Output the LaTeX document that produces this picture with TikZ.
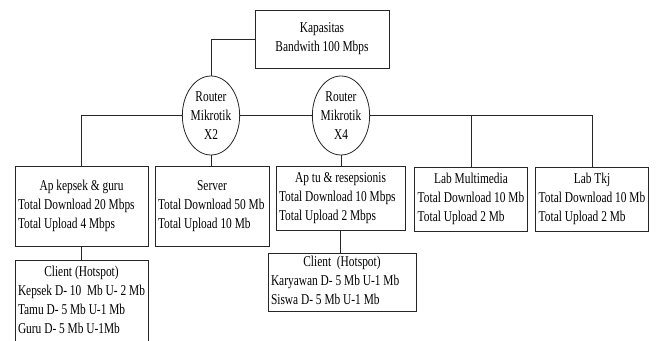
\documentclass[tikz,border=0pt]{standalone}
\usepackage{fontspec}
\setmainfont{Liberation Serif}[FakeStretch=0.76, WordSpace={1,0,0}]
\usetikzlibrary{shapes.geometric}
\newcommand{\boxtext}[3]{\begin{tabular}{@{}l@{}}\multicolumn{1}{@{}c@{}}{\makebox[#1]{#2}}\\#3\end{tabular}}
\begin{document}
\begin{tikzpicture}[x=1pt,y=-1pt,
  every node/.style={font=\fontsize{15}{19}\selectfont},
  box/.style={draw=black!85, line width=0.8pt, rectangle, inner xsep=3pt, inner ysep=0pt},
  router/.style={draw=black!85, line width=0.8pt, ellipse, inner sep=0pt, align=center},
  link/.style={draw=black!85, line width=0.8pt}]
\useasboundingbox (0,0) rectangle (658,340);
\begin{scope}
\clip (0,0) rectangle (658,340);
\node[box, align=center, minimum width=134pt, minimum height=58pt] (cap) at (322,39) {Kapasitas\\Bandwith 100 Mbps};
\node[router, minimum width=57pt, minimum height=79pt] (x2) at (211,115.5) {Router\\Mikrotik\\X2};
\node[router, minimum width=56pt, minimum height=79pt] (x4) at (341,115.5) {Router\\Mikrotik\\X4};
\node[box, minimum width=133pt, minimum height=80pt] (apk) at (81.5,206) {\boxtext{127pt}{Ap kepsek \& guru}{Total Download 20 Mbps\\Total Upload 4 Mbps}};
\node[box, minimum width=114pt, minimum height=80pt] (srv) at (212,206) {\boxtext{108pt}{Server}{Total Download 50 Mb\\Total Upload 10 Mb}};
\node[box, minimum width=129pt, minimum height=64pt] (aptu) at (340.5,198) {\boxtext{123pt}{Ap tu \& resepsionis}{Total Download 10 Mbps\\Total Upload 2 Mbps}};
\node[box, minimum width=110pt, minimum height=64pt] (labm) at (471,199) {\boxtext{104pt}{Lab Multimedia}{Total Download 10 Mb\\Total Upload 2 Mb}};
\node[box, minimum width=112pt, minimum height=64pt] (labt) at (592,199) {\boxtext{106pt}{Lab Tkj}{Total Download 10 Mb\\Total Upload 2 Mb}};
\node[box, minimum width=133pt, minimum height=83pt] (cl1) at (81.5,301.5) {\boxtext{127pt}{Client (Hotspot)}{Kepsek D- 10\ \ Mb U- 2 Mb\\Tamu D- 5 Mb U-1 Mb\\Guru D- 5 Mb U-1Mb}};
\node[box, minimum width=148pt, minimum height=58pt] (cl2) at (342,282) {\boxtext{142pt}{Client\ \ (Hotspot)}{Karyawan D- 5 Mb U-1 Mb\\Siswa D- 5 Mb U-1 Mb}};
\end{scope}
\draw[link] (cap.west) -| (x2.north);
\draw[link] (x2.west) -| (apk.north);
\draw[link] (x2.east) -- (x4.west);
\draw[link] (x2.south) -- (x2.south |- srv.north);
\draw[link] (x4.east) -| (labt.north);
\draw[link] (labm.north |- x4.east) -- (labm.north);
\draw[link] (x4.south) -- (x4.south |- aptu.north);
\draw[link] (aptu.south) -- (aptu.south |- cl2.north);
\draw[link] (apk.south) -- (cl1.north);
\end{tikzpicture}
\end{document}
